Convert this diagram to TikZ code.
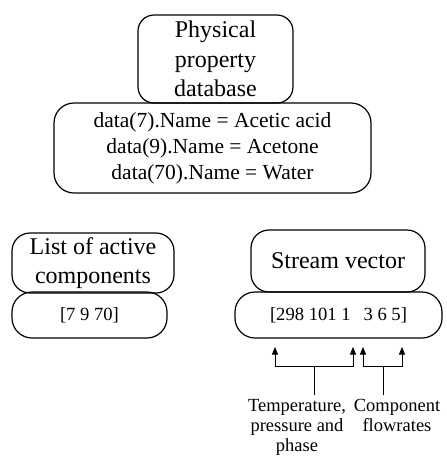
\documentclass[tikz,border=0pt]{standalone}
\usepackage{fontspec}
\setmainfont{Liberation Serif}
\usetikzlibrary{arrows.meta}
\begin{document}
\begin{tikzpicture}[x=1pt,y=-1pt,
  rbox/.style={draw, line width=1.2pt, rounded corners=#1, align=center, inner sep=0pt},
  rbox/.default=16pt,
  bigtext/.style={font=\fontsize{24}{29.5}\selectfont},
  datatext/.style={font=\fontsize{21.5}{26}\selectfont},
  valtext/.style={font=\fontsize{18.6}{22}\selectfont},
  labtext/.style={font=\fontsize{18.5}{20}\selectfont, align=center, inner sep=0pt, anchor=north},
  arr/.style={line width=0.8pt, -{Triangle[length=7.5pt,width=6pt]}},
  stem/.style={line width=0.8pt}]
\useasboundingbox (0,0) rectangle (447,456);

% database header and its entries
\node[rbox=16pt, bigtext, minimum width=155pt, minimum height=88pt] (ppd) at (215.5,59)
  {Physical\\property\\database};
\node[rbox=20pt, datatext, minimum width=317pt, minimum height=90pt] (data) at (212.5,148)
  {data(7).Name = Acetic acid\\data(9).Name = Acetone\\data(70).Name = Water};

% list of active components
\node[rbox=18pt, bigtext, minimum width=162pt, minimum height=60pt] (list) at (93,263)
  {List of active\\components};
\node[rbox=20pt, valtext, minimum width=155pt, minimum height=46pt] (ids) at (89.5,315)
  {[7 9 70]};

% stream vector
\node[rbox=18pt, bigtext, minimum width=174pt, minimum height=62pt] (svec) at (338,261)
  {Stream vector};
\node[rbox=20pt, valtext, minimum width=207pt, minimum height=46pt] (vals) at (338.5,315)
  {[298 101 1\hspace{13pt}3 6 5]};

% captions under the vector
\node[labtext] (tpp) at (297,399) {Temperature,\\pressure and\\phase};
\node[labtext] (cfr) at (397,399) {Component\\flowrates};

% bracket junctions and arrow ends
\coordinate (j1) at (314,366);
\coordinate (j2) at (383,366);
\coordinate (a1) at (275,347);
\coordinate (a2) at (353,347);
\coordinate (a3) at (363,347);
\coordinate (a4) at (402,347);

\draw[stem, shorten >=4.5pt] (j1) -- (j1 |- tpp.north);
\draw[stem, shorten >=4.5pt] (j2) -- (j2 |- cfr.north);
\draw[arr] (j1) -| (a1);
\draw[arr] (j1) -| (a2);
\draw[arr] (j2) -| (a3);
\draw[arr] (j2) -| (a4);
\end{tikzpicture}
\end{document}
